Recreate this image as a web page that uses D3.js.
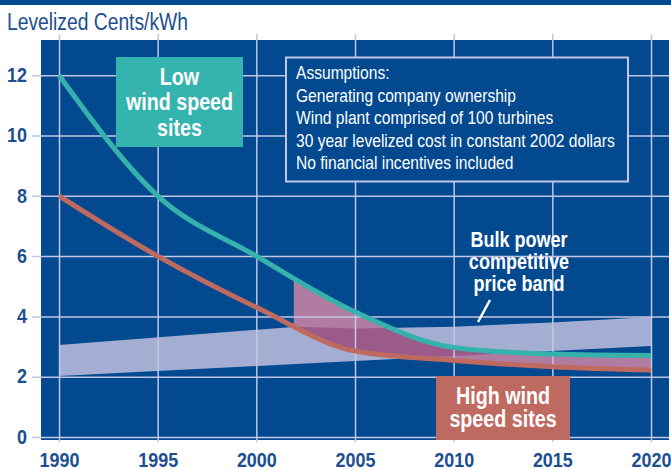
<!DOCTYPE html>
<html>
<head>
<meta charset="utf-8">
<script src="https://cdn.jsdelivr.net/npm/d3@7"></script>
<style>
  body { margin: 0; background: #fff; }
  svg text { font-family: 'Liberation Sans', Arial, sans-serif; }
</style>
</head>
<body>
<div id="chart"></div>
<script>
// Chart data
var years = [1990, 1995, 2000, 2005, 2010, 2015, 2020];
var lowWind = [12, 8.0, 6.0, 4.15, 2.97, 2.75, 2.7];
var highWind = [8.0, 6.0, 4.3, 2.85, 2.54, 2.33, 2.22];
var bandYears = [1990, 2002, 2005, 2010, 2015, 2020];
var bandLow = [2.02, 2.42, 2.52, 2.69, 2.85, 3.02];
var bandHigh = [3.05, 3.66, 3.6, 3.66, 3.8, 3.98];
var yTicks = [0, 2, 4, 6, 8, 10, 12];
var shadeStart = 2001.9;
var assumptions = [
  "Assumptions:",
  "Generating company ownership",
  "Wind plant comprised of 100 turbines",
  "30 year levelized cost in constant 2002 dollars",
  "No financial incentives included"
];

var width = 671, height = 470;
var blue = "#02498f", grid = "#c3c6e3", ink = "#1d4f90";

var svg = d3.select("#chart").append("svg")
  .attr("width", width)
  .attr("height", height);

// squeeze a text horizontally (the original uses a condensed face)
function condense(sel, k) {
  sel.each(function() {
    var w = this.getComputedTextLength();
    d3.select(this).attr("textLength", w * k).attr("lengthAdjust", "spacingAndGlyphs");
  });
}

// top bar + title
svg.append("rect").attr("x", 0).attr("y", 0).attr("width", width).attr("height", 5).attr("fill", blue);
svg.append("text")
  .attr("x", 7).attr("y", 30)
  .attr("fill", ink)
  .style("font-size", "23.5px")
  .text("Levelized Cents/kWh")
  .call(condense, 0.82);

var x = d3.scaleLinear().domain([1990, 2020]).range([59, 651]);
var y = d3.scaleLinear().domain([0, 12]).range([437, 75.2]);

// plot background
svg.append("rect")
  .attr("x", 41).attr("y", 40)
  .attr("width", 628).attr("height", 400)
  .attr("fill", blue);

var low = years.map(function(d, i) { return {year: d, v: lowWind[i]}; });
var high = years.map(function(d, i) { return {year: d, v: highWind[i]}; });
var band = bandYears.map(function(d, i) { return {year: d, lo: bandLow[i], hi: bandHigh[i]}; });

// price band
var bandArea = d3.area()
  .x(function(d) { return x(d.year); })
  .y0(function(d) { return y(d.lo); })
  .y1(function(d) { return y(d.hi); });

svg.append("path").datum(band).attr("d", bandArea).attr("fill", "#a4aed3");

var defs = svg.append("defs");
defs.append("clipPath").attr("id", "shade-clip")
  .append("rect")
  .attr("x", x(shadeStart)).attr("y", 0)
  .attr("width", x(2020) - x(shadeStart)).attr("height", height);
defs.append("clipPath").attr("id", "band-clip")
  .append("path").datum(band).attr("d", bandArea);

// shaded gap between the two curves
var gap = years.map(function(d, i) { return {year: d, lo: highWind[i], hi: lowWind[i]}; });
var gapArea = d3.area()
  .x(function(d) { return x(d.year); })
  .y0(function(d) { return y(d.lo); })
  .y1(function(d) { return y(d.hi); })
  .curve(d3.curveMonotoneX);

var shade = svg.append("g").attr("clip-path", "url(#shade-clip)");
shade.append("path").datum(gap).attr("d", gapArea).attr("fill", "#b07ca2");
shade.append("g").attr("clip-path", "url(#band-clip)")
  .append("path").datum(gap).attr("d", gapArea).attr("fill", "#9c5a8b");

// gridlines + tick labels
var yAxis = svg.append("g")
  .attr("transform", "translate(32,0)")
  .call(d3.axisLeft(y).tickValues(yTicks).tickSize(-(669 - 32)).tickPadding(5));

var xAxis = svg.append("g")
  .attr("transform", "translate(0,442)")
  .call(d3.axisBottom(x).tickValues(years).tickFormat(d3.format("d")).tickSize(-(442 - 34)).tickPadding(11));

[yAxis, xAxis].forEach(function(a) {
  a.select(".domain").remove();
  a.selectAll(".tick line").attr("stroke", grid).attr("stroke-width", 1.5);
  a.selectAll(".tick text")
    .attr("fill", ink)
    .style("font-size", "19.5px")
    .style("font-weight", "bold")
    .style("font-family", "'Liberation Sans', Arial, sans-serif")
    .call(condense, 0.92);
});

// curves
var line = d3.line()
  .x(function(d) { return x(d.year); })
  .y(function(d) { return y(d.v); })
  .curve(d3.curveMonotoneX);

svg.append("path").datum(high).attr("d", line)
  .attr("fill", "none").attr("stroke", "#bf6a60").attr("stroke-width", 5);
svg.append("path").datum(low).attr("d", line)
  .attr("fill", "none").attr("stroke", "#36b2ac").attr("stroke-width", 5);

// labels
function boxLabel(bx, by, bw, bh, fill, lines, firstY, step, size) {
  svg.append("rect").attr("x", bx).attr("y", by).attr("width", bw).attr("height", bh).attr("fill", fill);
  svg.append("g").selectAll("text")
    .data(lines)
    .enter()
    .append("text")
    .attr("x", bx + bw / 2)
    .attr("y", function(d, i) { return firstY + i * step; })
    .attr("text-anchor", "middle")
    .attr("fill", "#fff")
    .style("font-size", size + "px")
    .style("font-weight", "bold")
    .text(function(d) { return d; })
    .call(condense, 0.82);
}

boxLabel(116, 57, 127, 90, "#35b3ae", ["Low", "wind speed", "sites"], 84.5, 25.5, 24);
boxLabel(436, 376, 134, 64, "#bf6a61", ["High wind", "speed sites"], 404, 23, 24);

// assumptions box
svg.append("rect")
  .attr("x", 286).attr("y", 57.5)
  .attr("width", 342).attr("height", 124)
  .attr("fill", blue).attr("stroke", grid).attr("stroke-width", 2);
svg.append("g").selectAll("text")
  .data(assumptions)
  .enter()
  .append("text")
  .attr("x", 296)
  .attr("y", function(d, i) { return 79 + i * 22.5; })
  .attr("fill", "#fff")
  .style("font-size", "19px")
  .text(function(d) { return d; })
  .call(condense, 0.82);

// price band callout
svg.append("g").selectAll("text")
  .data(["Bulk power", "competitive", "price band"])
  .enter()
  .append("text")
  .attr("x", 519)
  .attr("y", function(d, i) { return 246.5 + i * 22; })
  .attr("text-anchor", "middle")
  .attr("fill", "#fff")
  .style("font-size", "22px")
  .style("font-weight", "bold")
  .text(function(d) { return d; })
  .call(condense, 0.82);

svg.append("line")
  .attr("x1", 490).attr("y1", 300)
  .attr("x2", 478).attr("y2", 322)
  .attr("stroke", "#fff").attr("stroke-width", 2.5);
</script>
</body>
</html>
